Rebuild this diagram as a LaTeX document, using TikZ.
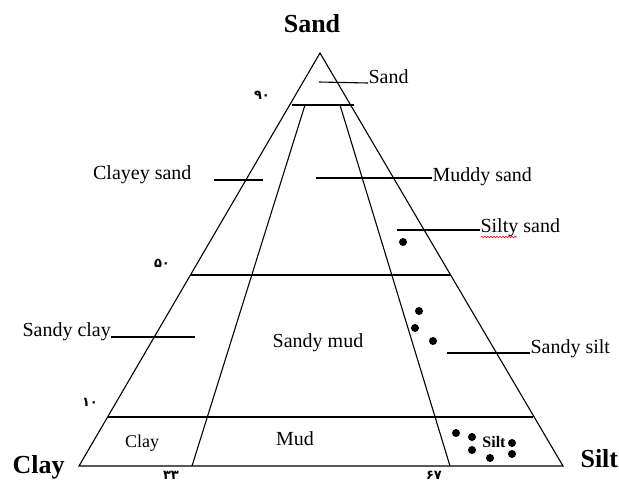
\documentclass[tikz,border=0pt]{standalone}
\usepackage{fontspec}
\setmainfont{Liberation Serif}
\newfontfamily\arabicfont[Script=Arabic]{DejaVu Sans}
\usetikzlibrary{decorations.pathmorphing}

\begin{document}
\begin{tikzpicture}[x=1pt,y=-1pt,line width=1.1pt,
  lbl/.style={inner sep=0pt,font=\fontsize{20}{24}\selectfont},
  corner/.style={inner sep=0pt,font=\fontsize{26}{30}\selectfont\bfseries},
  num/.style={inner sep=0pt,font=\arabicfont\fontsize{13}{15}\selectfont\bfseries}]
\useasboundingbox (0,0) rectangle (619,482);
% the triangle
\coordinate (top) at (320,53);
\coordinate (clay) at (79,466);
\coordinate (silt) at (563,466);
\draw (top) -- (clay) -- (silt) -- cycle;
% class boundaries
\coordinate (a90) at (292,105); \coordinate (b90) at (354,105);
\coordinate (a50) at (190,275); \coordinate (b50) at (451,275);
\coordinate (a10) at (108,417); \coordinate (b10) at (533,417);
\draw (a90) -- (b90);
\draw (a50) -- (b50);
\draw (a10) -- (b10);
\coordinate (p1) at (305,105); \coordinate (q1) at (192,466);
\coordinate (p2) at (340,105); \coordinate (q2) at (450,466);
\draw (p1) -- (q1);
\draw (p2) -- (q2);
% corner names
\node [corner] (sandtitle) at (312,24) {Sand};
\node [corner,anchor=base west] (claycorner) at (12,473) {Clay};
\node [corner,anchor=base west] (siltcorner) at (580,467) {Silt};
% percent marks
\node [num] (n90) at (262,95) {۹۰};
\node [num] (n50) at (162,263) {۵۰};
\node [num] (n10) at (90,402) {۱۰};
\node [num] (n33) at (171,475) {۳۳};
\node [num] (n67) at (434,475) {۶۷};
% class names with leaders
\node [lbl,anchor=base west] (sand) at (368,83) {Sand};
\coordinate (sandend) at (319,82);
\draw (sandend) -- (sand.base west);
\node [lbl,anchor=base east] (clayeysand) at (192,179) {Clayey sand};
\coordinate (cs1) at (214,180); \coordinate (cs2) at (263,180);
\draw (cs1) -- (cs2);
\node [lbl,anchor=base west] (muddysand) at (432,181) {Muddy sand};
\coordinate (msend) at (316,178);
\draw (msend) -- (muddysand.west |- msend);
\node [lbl,anchor=base west] (siltysand) at (480,232) {Silty sand};
\coordinate (ssend) at (397,230);
\draw (ssend) -- (siltysand.west |- ssend);
\draw [red,line width=0.6pt,decorate,decoration={snake,amplitude=0.8pt,segment length=3pt}]
  (481,237) -- (517,237);
\node [lbl,anchor=base west] (sandyclay) at (22,336) {Sandy clay};
\coordinate (scend) at (195,337);
\draw (sandyclay.east |- scend) -- (scend);
\node [lbl,anchor=base] (sandymud) at (318,347) {Sandy mud};
\node [lbl,anchor=base west] (sandysilt) at (530,353) {Sandy silt};
\coordinate (sstend) at (447,353);
\draw (sstend) -- (sandysilt.west |- sstend);
\node [lbl,anchor=base,font=\fontsize{18}{20}\selectfont] (claybox) at (142,447) {Clay};
\node [lbl,anchor=base] (mud) at (295,445) {Mud};
\node [lbl,anchor=base,font=\fontsize{16}{18}\selectfont\bfseries] (siltbox) at (494,447) {Silt};
% samples
\foreach \x/\y in {403/242,419/311,415/328,433/341,456/433,472/437,472/450,512/443,512/454,490/458}
  \fill (\x,\y) circle (4);
\end{tikzpicture}
\end{document}
